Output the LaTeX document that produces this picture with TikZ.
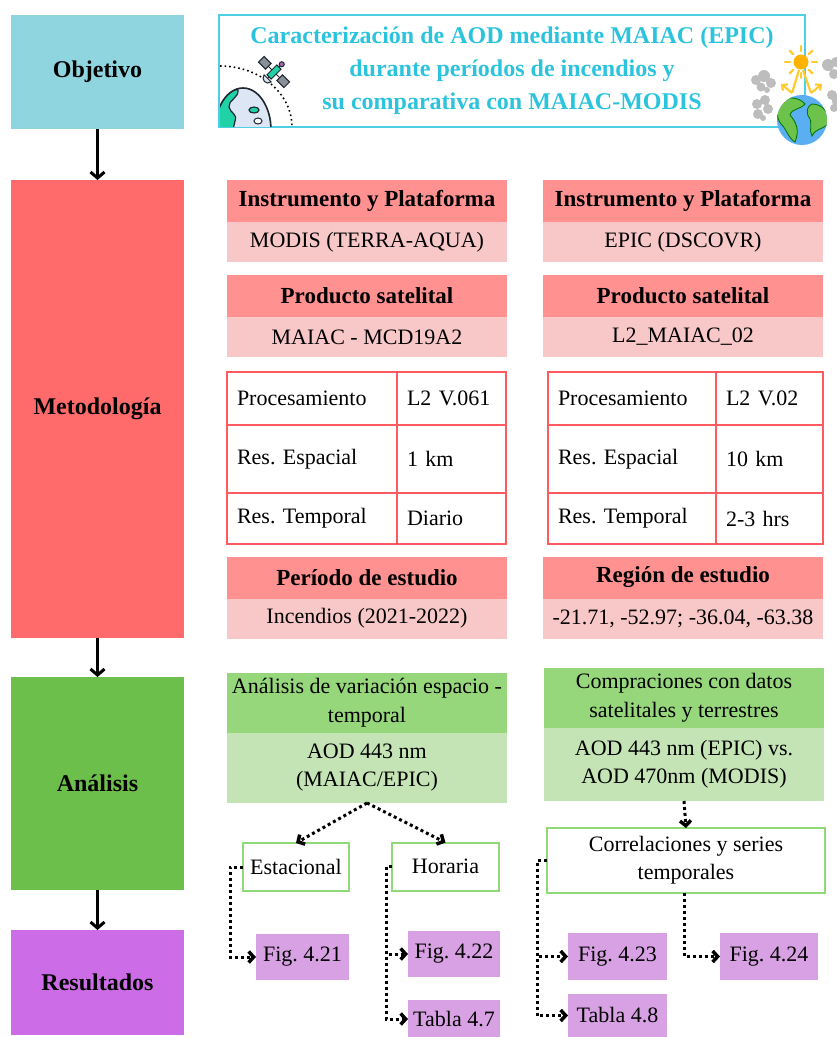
\documentclass[tikz,border=0pt]{standalone}
\usepackage{fontspec}
\setmainfont{Liberation Serif}
\usepackage{tikz}
\usetikzlibrary{positioning, arrows.meta}
\frenchspacing
\definecolor{ink}{HTML}{1E2630}
\definecolor{objcyan}{HTML}{8FD5E0}
\definecolor{metred}{HTML}{FF6B6B}
\definecolor{anagreen}{HTML}{6DBF4B}
\definecolor{resviolet}{HTML}{CC6CE6}
\definecolor{titlecyan}{HTML}{2CC3DD}
\definecolor{framecyan}{HTML}{4FCFE6}
\definecolor{headred}{HTML}{FF9191}
\definecolor{infored}{HTML}{F8C8C8}
\definecolor{gridred}{HTML}{FF5A5F}
\definecolor{headgreen}{HTML}{97D77C}
\definecolor{infogreen}{HTML}{C5E4B6}
\definecolor{boxgreen}{HTML}{8FD976}
\definecolor{figviolet}{HTML}{D7A1E3}
\definecolor{globeblue}{HTML}{DCE6F5}
\definecolor{landteal}{HTML}{1FD3A6}
\definecolor{panelgray}{HTML}{8A9099}
\definecolor{sunorange}{HTML}{FFB300}
\definecolor{rayyellow}{HTML}{FFCB2E}
\definecolor{smoke}{HTML}{BDBDBD}
\definecolor{seablue}{HTML}{5AAEF2}
\definecolor{landgreen}{HTML}{6CC24A}

\begin{document}
\begin{tikzpicture}[x=1pt, y=-1pt,
  stage/.style={rectangle, minimum width=173pt, outer sep=0pt,
    font=\fontsize{24}{28}\selectfont\bfseries},
  head/.style={rectangle, fill=headred, minimum width=280pt, minimum height=42pt,
    outer sep=0pt, font=\fontsize{23}{28}\selectfont\bfseries},
  info/.style={rectangle, fill=infored, minimum width=280pt, minimum height=40pt,
    outer sep=0pt, font=\fontsize{22}{28}\selectfont},
  cell/.style={rectangle, draw=gridred, line width=2.5pt, outer sep=0pt,
    inner xsep=10pt, align=left, font=\fontsize{22}{28}\selectfont},
  keycell/.style={cell, text width=150pt},
  valcell/.style={cell, text width=89pt},
  ghead/.style={rectangle, fill=headgreen, minimum width=280pt, minimum height=60pt,
    outer sep=0pt, align=center, font=\fontsize{22}{29}\selectfont},
  ginfo/.style={rectangle, fill=infogreen, minimum width=280pt, minimum height=70pt,
    outer sep=0pt, align=center, font=\fontsize{22}{28}\selectfont},
  sub/.style={rectangle, draw=boxgreen, line width=2pt, fill=white, outer sep=0pt,
    align=center, font=\fontsize{22}{28}\selectfont},
  fig/.style={rectangle, fill=figviolet, outer sep=0pt,
    font=\fontsize{22}{28}\selectfont},
  flow/.style={-{Straight Barb[length=6pt, width=14pt]}, line width=3pt},
  dots/.style={-{Straight Barb[length=5pt, width=11pt, line width=3.5pt]}, line width=3pt,
    dash pattern=on 3pt off 3pt}
]
\useasboundingbox (0,0) rectangle (837,1037);

% stages on the left
\node[stage, fill=objcyan, minimum height=114pt] (obj) at (97.5,72) {Objetivo};
\node[stage, fill=metred, minimum height=458pt] (met) at (97.5,409) {Metodología};
\node[stage, fill=anagreen, minimum height=213pt] (ana) at (97.5,783.5) {Análisis};
\node[stage, fill=resviolet, minimum height=105pt] (res) at (97.5,982.5) {Resultados};

\draw[flow] (obj) -- (met);
\draw[flow] (met) -- (ana);
\draw[flow] (ana) -- (res);

% objective
\node[draw=framecyan, line width=1.5pt, minimum width=586pt, minimum height=112pt,
  align=center, text=titlecyan, font=\fontsize{24}{33}\selectfont\bfseries]
  (goal) at (512,71)
  {Caracterización de AOD mediante MAIAC (EPIC)\\
   durante períodos de incendios y\\
   su comparativa con MAIAC-MODIS};

% globe and satellite
\begin{scope}
  \clip (220,55) rectangle (300,126.3);
  \draw[line width=1.6pt, dash pattern=on 1.6pt off 3pt]
    (220,66) arc[start angle=-90, end angle=0, x radius=72, y radius=61];
  \fill[globeblue] (243,130) ellipse[x radius=28, y radius=42];
  \begin{scope}
    \clip (243,130) ellipse[x radius=28, y radius=42];
    \filldraw[fill=landteal, draw=ink, line width=1.2pt]
      (212,85) -- (238,90) .. controls (239,98) and (228,100) .. (229,107)
      .. controls (230,113) and (238,114) .. (235,121) -- (233,130) -- (212,130) -- cycle;
    \filldraw[fill=landteal, draw=ink, line width=1.2pt]
      (254,110) ellipse[x radius=5, y radius=3];
    \filldraw[fill=white, draw=ink, line width=1pt]
      (258,121) ellipse[x radius=4, y radius=3];
  \end{scope}
  \draw[ink, line width=1.6pt] (243,130) ellipse[x radius=28, y radius=42];
\end{scope}
\begin{scope}[shift={(274,72)}, rotate=-45, line width=1pt, draw=ink]
  \draw (-16,0) -- (16,0);
  \filldraw[fill=panelgray] (-18,-4) rectangle (-8,4);
  \filldraw[fill=panelgray] (8,-4) rectangle (18,4);
  \draw (0,7) -- (0,9) (0,-7) -- (0,-9);
  \filldraw[fill=landteal] (-3,-7) rectangle (3,7);
  \filldraw[fill=globeblue] (-5,9) .. controls (-4,15) and (4,15) .. (5,9) -- cycle;
  \filldraw[fill=violet!60] (0,-11) circle (2.5);
\end{scope}

% sun, smoke and earth
\fill[smoke] (756,80) circle (5) (764,76) circle (6) (771,83) circle (5)
  (761,87) circle (4.5) (767,90) circle (3);
\fill[smoke] (757,104) circle (5) (765,100) circle (5) (768,109) circle (5)
  (758,114) circle (5) (763,118) circle (3);
\fill[smoke] (828,65) circle (6) (836,62) circle (5) (834,74) circle (5);
\fill[smoke] (832,95) circle (5) (838,101) circle (6) (834,108) circle (4);
\foreach \a in {0,45,...,315}
  \draw[rayyellow, line width=2.2pt, line cap=round]
    (801,62) ++(\a:11) -- ++(\a:5);
\fill[sunorange] (801,62) circle (7.5);
\draw[rayyellow, line width=2.2pt] (799,70) -- (792,93);
\draw[rayyellow, line width=2.2pt] (803,70) -- (811,93);
\draw[rayyellow, line width=2.2pt, -{Straight Barb[length=4pt, width=8pt]}]
  (792,93) -- (781,84);
\draw[rayyellow, line width=2.2pt, -{Straight Barb[length=4pt, width=8pt]}]
  (811,93) -- (822,84);
\fill[seablue] (802,120) circle (25);
\begin{scope}
  \clip (802,120) circle (25);
  \filldraw[fill=landgreen, draw=green!45!black, line width=0.8pt]
    (780,100) .. controls (790,96) and (800,98) .. (805,104)
    .. controls (800,110) and (792,108) .. (790,115)
    .. controls (796,122) and (800,130) .. (795,142)
    .. controls (788,138) and (786,128) .. (781,124)
    .. controls (776,118) and (776,108) .. (780,100) -- cycle;
  \filldraw[fill=landgreen, draw=green!45!black, line width=0.8pt]
    (812,104) .. controls (822,104) and (830,112) .. (828,124)
    .. controls (822,130) and (816,128) .. (812,136)
    .. controls (808,130) and (814,122) .. (808,116)
    .. controls (806,110) and (808,106) .. (812,104) -- cycle;
\end{scope}

% methodology, MODIS side
\node[head] (instA) at (367,201) {Instrumento y Plataforma};
\node[info, below=0pt of instA] (instAval) {MODIS (TERRA-AQUA)};
\node[head] (prodA) at (367,296) {Producto satelital};
\node[info, below=0pt of prodA] (prodAval) {MAIAC - MCD19A2};
\node[keycell, minimum height=53pt, anchor=north west] (procA) at (227,372) {Procesamiento};
\node[valcell, minimum height=53pt, right=0pt of procA] (procAval) {L2 V.061};
\node[keycell, minimum height=68pt, below=0pt of procA] (espA) {Res. Espacial};
\node[valcell, minimum height=68pt, right=0pt of espA] (espAval) {1 km};
\node[keycell, minimum height=51pt, below=0pt of espA] (tempA) {Res. Temporal};
\node[valcell, minimum height=51pt, right=0pt of tempA] (tempAval) {Diario};
\node[head] (perA) at (367,577.5) {Período de estudio};
\node[info, below=0pt of perA] (perAval) {Incendios (2021-2022)};

% methodology, EPIC side
\node[head] (instB) at (683,201) {Instrumento y Plataforma};
\node[info, below=0pt of instB] (instBval) {EPIC (DSCOVR)};
\node[head] (prodB) at (683,296) {Producto satelital};
\node[info, below=0pt of prodB] (prodBval) {L2\_MAIAC\_02};
\node[keycell, text width=148pt, minimum height=53pt, anchor=north west] (procB) at (548,372) {Procesamiento};
\node[valcell, text width=87pt, minimum height=53pt, right=0pt of procB] (procBval) {L2 V.02};
\node[keycell, text width=148pt, minimum height=68pt, below=0pt of procB] (espB) {Res. Espacial};
\node[valcell, text width=87pt, minimum height=68pt, right=0pt of espB] (espBval) {10 km};
\node[keycell, text width=148pt, minimum height=51pt, below=0pt of espB] (tempB) {Res. Temporal};
\node[valcell, text width=87pt, minimum height=51pt, right=0pt of tempB] (tempBval) {2-3 hrs};
\node[head] (regB) at (683,577.5) {Región de estudio};
\node[info, below=0pt of regB] (regBval) {-21.71, -52.97; -36.04, -63.38};

% analysis
\node[ghead] (anaA) at (367,703) {Análisis de variación espacio -\\temporal};
\node[ginfo, below=0pt of anaA] (anaAval) {AOD 443 nm\\(MAIAC/EPIC)};
\node[ghead] (anaB) at (684,698) {Compraciones con datos\\satelitales y terrestres};
\node[ginfo, minimum height=73pt, below=0pt of anaB] (anaBval) {AOD 443 nm (EPIC) vs.\\AOD 470nm (MODIS)};

\node[sub, minimum width=106pt, minimum height=48pt] (est) at (296,867) {Estacional};
\node[sub, minimum width=107pt, minimum height=48pt] (hor) at (445.5,866.5) {Horaria};
\node[sub, minimum width=278pt, minimum height=65pt] (corr) at (686,860.5) {Correlaciones y series\\temporales};

\draw[dots] (anaAval.south) -- (est.north);
\draw[dots] (anaAval.south) -- (hor.north);
\draw[dots] (anaBval.south) -- (corr.north);

% results
\node[fig, minimum width=93pt, minimum height=46pt] (f421) at (302.5,957) {Fig. 4.21};
\node[fig, minimum width=92pt, minimum height=46pt] (f422) at (454,954) {Fig. 4.22};
\node[fig, minimum width=92pt, minimum height=38pt] (t47) at (454,1019) {Tabla 4.7};
\node[fig, minimum width=99pt, minimum height=47pt] (f423) at (617.5,956.5) {Fig. 4.23};
\node[fig, minimum width=99pt, minimum height=43pt] (t48) at (617.5,1015.5) {Tabla 4.8};
\node[fig, minimum width=98pt, minimum height=47pt] (f424) at (769,956.5) {Fig. 4.24};

\draw[dots] (est.west) -- ++(-13,0) |- (f421);
\draw[dots] (hor.west) -- ++(-6,0) |- (f422);
\draw[dots] (hor.west) -- ++(-6,0) |- (t47);
\draw[dots] (corr.west) -- ++(-10,0) |- (f423);
\draw[dots] (corr.west) -- ++(-10,0) |- (t48);
\draw[dots] ([xshift=-2pt]corr.south) |- (f424);
\end{tikzpicture}
\end{document}
